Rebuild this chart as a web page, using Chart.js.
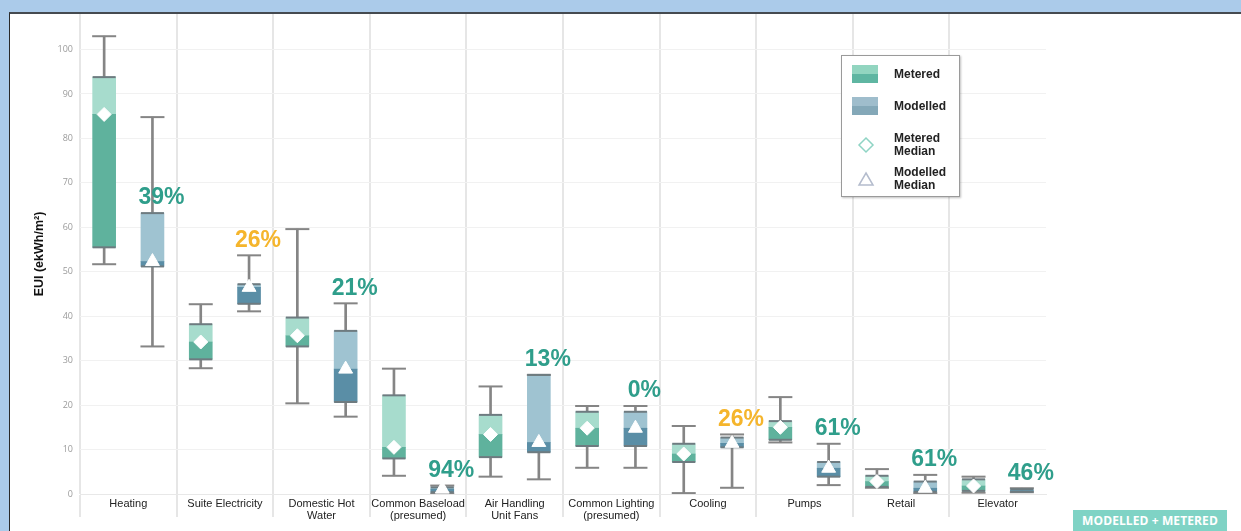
<!DOCTYPE html>
<html>
<head>
<meta charset="utf-8">
<script src="https://cdn.jsdelivr.net/npm/chart.js@4/dist/chart.umd.min.js"></script>
<style>
  html, body { margin: 0; padding: 0; }
  body { width: 1241px; height: 531px; background: #abcbea; position: relative; overflow: hidden; font-family: "Liberation Sans", Arial, sans-serif; }
  #frame { position: absolute; left: 9px; top: 12px; width: 1232px; height: 519px; background: #fff; border-left: 1.5px solid #2a2a2a; border-top: 2px solid #454a50; }
  #wrap { position: absolute; left: 11px; top: 14px; width: 1230px; height: 517px; }
  #legend { position: absolute; left: 841px; top: 55px; width: 117px; height: 140px; border: 1.5px solid #9a9a9a; background: #fff; box-shadow: 1px 1px 2px rgba(0,0,0,0.25); }
  .li { position: absolute; left: 0; width: 117px; }
  .sw { position: absolute; left: 10px; width: 26px; height: 18px; }
  .lt { position: absolute; left: 52px; font: bold 12px "Liberation Sans", Arial, sans-serif; color: #222; line-height: 12.5px; }
  #badge { position: absolute; left: 1073px; top: 510px; width: 154px; height: 21px; background: #7fd3c5; color: #fff; font: bold 12px "Open Sans", sans-serif; text-align: center; line-height: 22px; letter-spacing: 0.1px; }
</style>
</head>
<body>
<div id="frame"></div>
<div id="wrap"><canvas id="c"></canvas></div>
<div id="legend">
  <div class="li" style="top:9px;height:20px">
    <div class="sw" style="top:0;background:linear-gradient(#92d5c0 0 50%, #5fb6a2 50% 100%)"></div>
    <div class="lt" style="top:3px">Metered</div>
  </div>
  <div class="li" style="top:41px;height:20px">
    <div class="sw" style="top:0;background:linear-gradient(#9fbdcc 0 50%, #84a8b8 50% 100%)"></div>
    <div class="lt" style="top:3px">Modelled</div>
  </div>
  <div class="li" style="top:75px;height:28px">
    <svg style="position:absolute;left:15px;top:5px" width="18" height="18"><polygon points="9,2 16,9 9,16 2,9" fill="none" stroke="#8fd4c4" stroke-width="1.5"/></svg>
    <div class="lt" style="top:1px">Metered<br>Median</div>
  </div>
  <div class="li" style="top:109px;height:28px">
    <svg style="position:absolute;left:15px;top:5px" width="18" height="18"><polygon points="9,3 16,15 2,15" fill="none" stroke="#b4bccd" stroke-width="1.5"/></svg>
    <div class="lt" style="top:1px">Modelled<br>Median</div>
  </div>
</div>
<div id="badge">MODELLED + METERED</div>
<script>
// ---- data ----
const categories = [['Heating'], ['Suite Electricity'], ['Domestic Hot', 'Water'], ['Common Baseload', '(presumed)'], ['Air Handling', 'Unit Fans'], ['Common Lighting', '(presumed)'], ['Cooling'], ['Pumps'], ['Retail'], ['Elevator']];

const meteredMin    = [51.7, 28.3, 20.4, 4.1, 3.9, 5.9, 0.2, 11.6, 1.4, 0.3];
const meteredQ1     = [55.5, 30.3, 33.2, 8.0, 8.3, 10.8, 7.2, 12.2, 1.6, 0.7];
const meteredMedian = [85.4, 34.2, 35.6, 10.5, 13.4, 14.8, 9.0, 15.0, 2.8, 1.8];
const meteredQ3     = [93.8, 38.2, 39.7, 22.2, 17.8, 18.5, 11.3, 16.4, 4.1, 3.3];
const meteredMax    = [103.0, 42.7, 59.6, 28.2, 24.2, 19.8, 15.3, 21.8, 5.6, 3.9];

const modelledMin    = [33.2, 41.1, 17.4, 0.1, 3.3, 5.9, 1.4, 2.0, 0.2, 0.4];
const modelledQ1     = [51.2, 42.8, 20.7, 0.4, 9.4, 10.8, 10.5, 3.9, 0.5, 0.5];
const modelledMedian = [52.3, 46.5, 28.1, 1.1, 11.6, 14.8, 11.4, 5.8, 1.3, 0.8];
const modelledQ3     = [63.2, 47.2, 36.7, 1.5, 26.8, 18.5, 12.7, 7.2, 2.8, 1.1];
const modelledMax    = [84.8, 53.7, 42.9, 1.9, 26.8, 19.8, 13.4, 11.3, 4.3, 1.3];
const modelledMedianShown = [true, true, true, true, true, true, true, true, true, false];

const diffLabels = ['39%', '26%', '21%', '94%', '13%', '0%', '26%', '61%', '61%', '46%'];
const diffFlags  = ['ok', 'warn', 'ok', 'ok', 'ok', 'ok', 'warn', 'ok', 'ok', 'ok'];

const yTicks = [0, 10, 20, 30, 40, 50, 60, 70, 80, 90, 100];

// ---- styles ----
const C = {
  metLight: '#a7dccd', metDark: '#5fb29d',
  modLight: '#9fc3d1', modDark: '#5a8ea6',
  whisker: '#858585', quart: '#6e7b80',
  ok: '#2f9e8b', warn: '#f5b52c'
};
const SIDE = 0.25; // each group sits a quarter category left/right of the category centre

const rng = (lo, hi, off) => lo.map((v, i) => ({ x: i + off, y: [v, hi[i]] }));
const pts = (vals, off) => vals.map((v, i) => ({ x: i + off, y: v }));
const ptsMany = (off, ...arrs) => arrs.flatMap(a => pts(a, off));

const barCommon = { type: 'bar', grouped: false, borderWidth: 0, xAxisID: 'x2', yAxisID: 'y' };
const scatterCommon = { type: 'scatter', xAxisID: 'x2', yAxisID: 'y', showLine: false };

const datasets = [
  // whiskers (drawn first)
  { ...barCommon, order: 5, data: rng(meteredMin, meteredMax, -SIDE), backgroundColor: C.whisker, barThickness: 2 },
  { ...barCommon, order: 5, data: rng(modelledMin, modelledMax, SIDE), backgroundColor: C.whisker, barThickness: 2 },
  // boxes
  { ...barCommon, order: 3, data: rng(meteredQ1, meteredMedian, -SIDE), backgroundColor: C.metDark, barThickness: 23 },
  { ...barCommon, order: 3, data: rng(meteredMedian, meteredQ3, -SIDE), backgroundColor: C.metLight, barThickness: 23 },
  { ...barCommon, order: 3, data: rng(modelledQ1, modelledMedian, SIDE), backgroundColor: C.modDark, barThickness: 23 },
  { ...barCommon, order: 3, data: rng(modelledMedian, modelledQ3, SIDE), backgroundColor: C.modLight, barThickness: 23 },
  // whisker caps
  { ...scatterCommon, order: 2, data: ptsMany(-SIDE, meteredMin, meteredMax), pointStyle: 'line', pointRadius: 12, borderColor: C.whisker, pointBorderWidth: 2 },
  { ...scatterCommon, order: 2, data: ptsMany(SIDE, modelledMin, modelledMax), pointStyle: 'line', pointRadius: 12, borderColor: C.whisker, pointBorderWidth: 2 },
  // quartile edges
  { ...scatterCommon, order: 1, data: ptsMany(-SIDE, meteredQ1, meteredQ3), pointStyle: 'line', pointRadius: 11.5, borderColor: C.quart, pointBorderWidth: 2 },
  { ...scatterCommon, order: 1, data: ptsMany(SIDE, modelledQ1, modelledQ3), pointStyle: 'line', pointRadius: 11.5, borderColor: C.quart, pointBorderWidth: 2 },
  // median markers
  { ...scatterCommon, order: 0, data: pts(meteredMedian, -SIDE), pointStyle: 'rectRot', pointRadius: 7, backgroundColor: '#ffffff', borderColor: '#ffffff', pointBorderWidth: 1 },
  { ...scatterCommon, order: 0, data: pts(modelledMedian, SIDE).filter((p, i) => modelledMedianShown[i]), pointStyle: 'triangle', pointRadius: 8, backgroundColor: '#ffffff', borderColor: '#ffffff', pointBorderWidth: 1 }
];

const diffLabelPlugin = {
  id: 'diffLabels',
  afterDatasetsDraw(chart) {
    const meta = chart.getDatasetMeta(5);
    const y = chart.scales.y;
    const ctx = chart.ctx;
    ctx.save();
    ctx.font = 'bold 23px "Liberation Sans", Arial, sans-serif';
    ctx.textAlign = 'center';
    ctx.textBaseline = 'middle';
    diffLabels.forEach((t, i) => {
      const anchor = (modelledMax[i] - modelledQ3[i] > 10) ? modelledQ3[i] : modelledMax[i];
      ctx.fillStyle = diffFlags[i] === 'warn' ? C.warn : C.ok;
      ctx.fillText(t, meta.data[i].x + 9, y.getPixelForValue(anchor) - 15);
    });
    ctx.restore();
  }
};

new Chart(document.getElementById('c'), {
  type: 'bar',
  data: { labels: categories, datasets },
  plugins: [diffLabelPlugin],
  options: {
    responsive: true,
    maintainAspectRatio: false,
    animation: false,
    events: [],
    layout: { autoPadding: false, padding: { left: 0, right: 195, top: 0, bottom: 0 } },
    plugins: { legend: { display: false }, tooltip: { enabled: false } },
    scales: {
      x: {
        type: 'category',
        offset: true,
        grid: {
          offset: true,
          color: ctx => ctx.tick ? '#e6e6e6' : 'rgba(0,0,0,0)',
          lineWidth: 2,
          tickLength: 23,
          drawTicks: true
        },
        border: { display: true, color: '#e8e8e8', width: 1 },
        ticks: {
          color: '#222',
          font: { family: '"Liberation Sans", Arial, sans-serif', size: 11, lineHeight: 1.08 },
          padding: -19,
          maxRotation: 0,
          autoSkip: false
        },
        afterFit: s => { s.height = 37; }
      },
      x2: { type: 'linear', display: false, offset: false, grid: { offset: false }, min: -0.5, max: categories.length - 0.5 },
      y: {
        stacked: false,
        min: 0,
        max: 108,
        afterBuildTicks: s => { s.ticks = yTicks.map(v => ({ value: v })); },
        grid: { color: '#f1f1f1', lineWidth: 1, drawTicks: false },
        border: { display: false },
        ticks: { color: '#9b9b9b', font: { family: '"Open Sans", sans-serif', size: 9 }, padding: 7 },
        title: { display: true, text: 'EUI (ekWh/m²)', color: '#111', font: { family: '"Liberation Sans", Arial, sans-serif', size: 12.5, weight: 'bold' }, padding: { top: 21, bottom: 0 } },
        afterFit: s => { s.width = 69; s.paddingTop = 0; s.paddingBottom = 0; }
      }
    }
  }
});
</script>
</body>
</html>
